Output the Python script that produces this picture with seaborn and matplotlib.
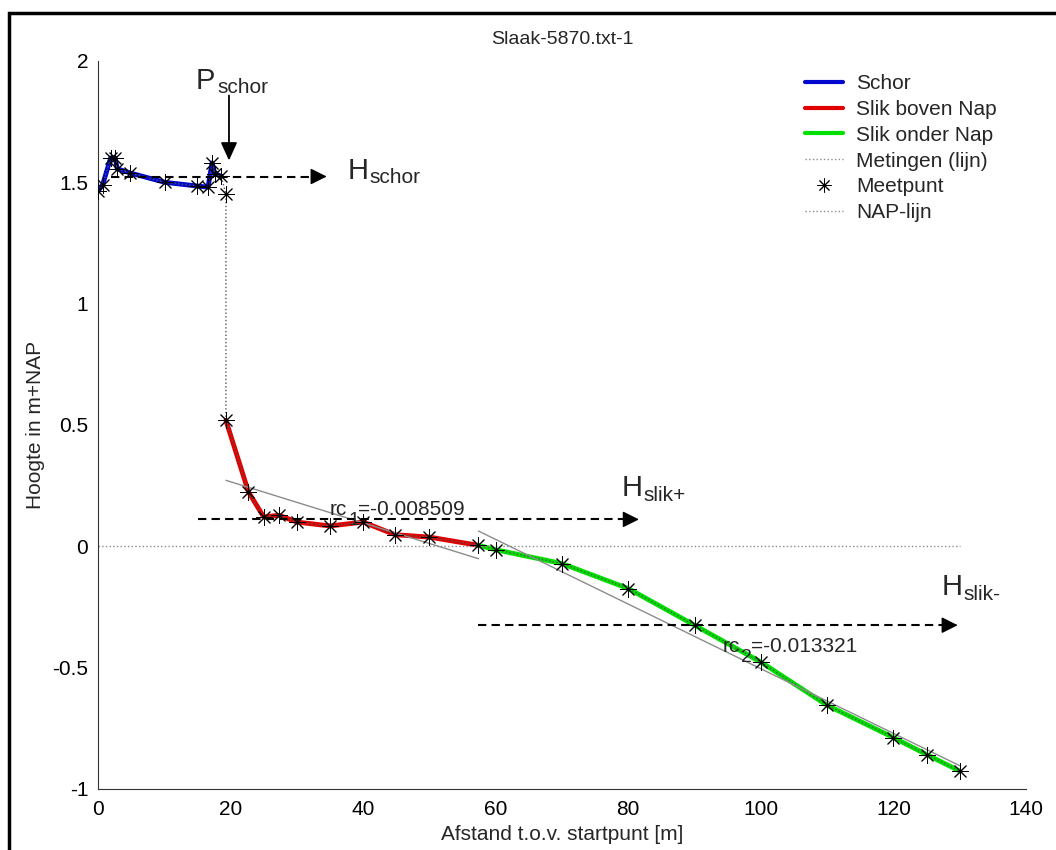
import numpy as np
import matplotlib
matplotlib.use('Agg')
import matplotlib.pyplot as plt
from matplotlib.lines import Line2D
from matplotlib.patches import Rectangle
import seaborn as sns

# measured profile, split per zone (x in m, height in m+NAP)
schor_x = [0, 0.7, 1.9, 2.6, 2.9, 4.9, 10.1, 14.9, 16.6, 17.2, 17.6, 18.6]
schor_y = [1.464, 1.49, 1.60, 1.60, 1.556, 1.538, 1.50, 1.485, 1.48, 1.58, 1.535, 1.525]
edge_x = [19.3]
edge_y = [1.45]
slik_plus_x = [19.3, 22.7, 25.0, 27.3, 30.0, 35.0, 40.0, 44.8, 50.0, 57.4]
slik_plus_y = [0.519, 0.224, 0.121, 0.128, 0.100, 0.084, 0.100, 0.048, 0.038, 0.004]
slik_min_x = [57.4, 60, 70, 80, 90, 100, 110, 120, 125, 130]
slik_min_y = [0.004, -0.014, -0.071, -0.174, -0.325, -0.477, -0.655, -0.788, -0.858, -0.926]

# fitted slopes (end points of the grey lines)
rc1_x = [19.3, 57.4]
rc1_y = [0.272, -0.051]
rc2_x = [57.4, 130]
rc2_y = [0.063, -0.904]
rc1_label = '=-0.008509'
rc2_label = '=-0.013321'

nap_x = [0, 130]
nap_y = [0, 0]

# level markers
h_schor = 1.524
h_slik_plus = 0.111
h_slik_min = -0.325
p_schor = 19.76

legend_labels = ['Schor', 'Slik boven Nap', 'Slik onder Nap',
                 'Metingen (lijn)', 'Meetpunt', 'NAP-lijn']

c_blue, c_red, c_green = '#0008cc', '#e00000', '#00e000'
grey = '#8c8c8c'
star = (8, 2, 0)


def dashed_arrow(ax, x0, x1, y):
    ax.plot([x0, x1 - 1.5], [y, y], color='black', lw=1.5, ls='--', dashes=(4, 2.5))
    ax.annotate('', xy=(x1, y), xytext=(x1 - 2.2, y),
                arrowprops=dict(arrowstyle='-|>,head_length=1.0,head_width=0.5',
                                mutation_scale=10, color='black', lw=1.0,
                                shrinkA=0, shrinkB=0))


def big_label(ax, x, y, main, sub):
    # big letter with a plain-text subscript, like the original figure
    ax.text(x, y, main, fontsize=21, va='baseline')
    ax.annotate(sub, xy=(x, y), xytext=(15.5, -3), textcoords='offset points',
                fontsize=15, va='baseline')


def rc_label(ax, x, y, idx, value):
    ax.text(x, y, 'rc', fontsize=15, va='baseline')
    ax.annotate(idx, xy=(x, y), xytext=(13, -7), textcoords='offset points',
                fontsize=14, va='baseline')
    ax.annotate(value, xy=(x, y), xytext=(20, 0), textcoords='offset points',
                fontsize=15, va='baseline')


def main():
    sns.set_style('white')
    plt.rcParams['font.family'] = ['Liberation Sans', 'DejaVu Sans']
    plt.rcParams['font.size'] = 15

    fig = plt.figure(figsize=(10.56, 8.5), dpi=100)
    ax = fig.add_axes([98 / 1056, 1 - 789 / 850, 928 / 1056, 728 / 850])

    all_x = schor_x + edge_x + slik_plus_x + slik_min_x[1:]
    all_y = schor_y + edge_y + slik_plus_y + slik_min_y[1:]

    sns.lineplot(x=schor_x, y=schor_y, color=c_blue, lw=3.5, sort=False,
                 estimator=None, ax=ax)
    sns.lineplot(x=slik_plus_x, y=slik_plus_y, color=c_red, lw=3.5, sort=False,
                 estimator=None, ax=ax)
    sns.lineplot(x=slik_min_x, y=slik_min_y, color=c_green, lw=3.5, sort=False,
                 estimator=None, ax=ax)
    ax.plot(all_x, all_y, color='#555555', lw=1, ls=':')
    ax.plot(nap_x, nap_y, color=grey, lw=1, ls=':')
    sns.scatterplot(x=all_x, y=all_y, marker=star, s=130, color='black',
                    linewidth=0.7, ax=ax, zorder=5)

    ax.plot(rc1_x, rc1_y, color=grey, lw=1)
    ax.plot(rc2_x, rc2_y, color=grey, lw=1)
    rc_label(ax, 35.0, 0.128, '1', rc1_label)
    rc_label(ax, 94.3, -0.437, '2', rc2_label)

    # level arrows
    dashed_arrow(ax, 2.0, 34.5, h_schor)
    dashed_arrow(ax, 15.1, 81.6, h_slik_plus)
    dashed_arrow(ax, 57.3, 129.7, h_slik_min)
    big_label(ax, 37.7, h_schor - 0.01, 'H', 'schor')
    big_label(ax, 79.0, 0.206, 'H', 'slik+')
    big_label(ax, 127.3, -0.202, 'H', 'slik-')

    ax.annotate('', xy=(p_schor, 1.59), xytext=(p_schor, 1.858),
                arrowprops=dict(arrowstyle='-|>,head_length=1.1,head_width=0.5',
                                mutation_scale=10, color='black', lw=1.3,
                                shrinkA=0, shrinkB=0))
    big_label(ax, 14.8, 1.885, 'P', 'schor')

    ax.set_xlim(0, 140)
    ax.set_ylim(-1, 2)
    ax.set_xticks(np.arange(0, 141, 20))
    ax.set_yticks([-1, -0.5, 0, 0.5, 1, 1.5, 2])
    ax.set_yticklabels(['-1', '-0.5', '0', '0.5', '1', '1.5', '2'])
    ax.tick_params(direction='in', length=6, width=0.8, colors='#333333',
                   labelcolor='black', labelsize=15, pad=8)
    ax.tick_params(axis='y', pad=7)
    sns.despine(ax=ax)
    for s in ['left', 'bottom']:
        ax.spines[s].set_color('#333333')
        ax.spines[s].set_linewidth(0.8)

    ax.set_xlabel('Afstand t.o.v. startpunt [m]', fontsize=15, labelpad=4)
    ax.set_ylabel('Hoogte in m+NAP', fontsize=15, labelpad=5)
    ax.set_title('Slaak-5870.txt-1', fontsize=14, pad=12)

    handles = [
        Line2D([], [], color=c_blue, lw=3),
        Line2D([], [], color=c_red, lw=3),
        Line2D([], [], color=c_green, lw=3),
        Line2D([], [], color=grey, lw=1, ls=':'),
        Line2D([], [], color='black', lw=0, marker=star, markersize=10,
               markeredgewidth=0.7),
        Line2D([], [], color=grey, lw=1, ls=':'),
    ]
    fig.legend(handles, legend_labels, loc='upper left',
               bbox_to_anchor=(805 / 1056, 1 - 74 / 850), frameon=False,
               fontsize=15, handlelength=1.8, handletextpad=0.65,
               labelspacing=0.33, borderpad=0, borderaxespad=0)

    fig.patches.append(Rectangle((9 / 1056, -0.05), 1.1, 1 - 13 / 850 + 0.05,
                                 transform=fig.transFigure, fill=False,
                                 lw=2.5, ec='black'))

    fig.savefig('out.png', dpi=100)
    plt.close(fig)


if __name__ == '__main__':
    main()
